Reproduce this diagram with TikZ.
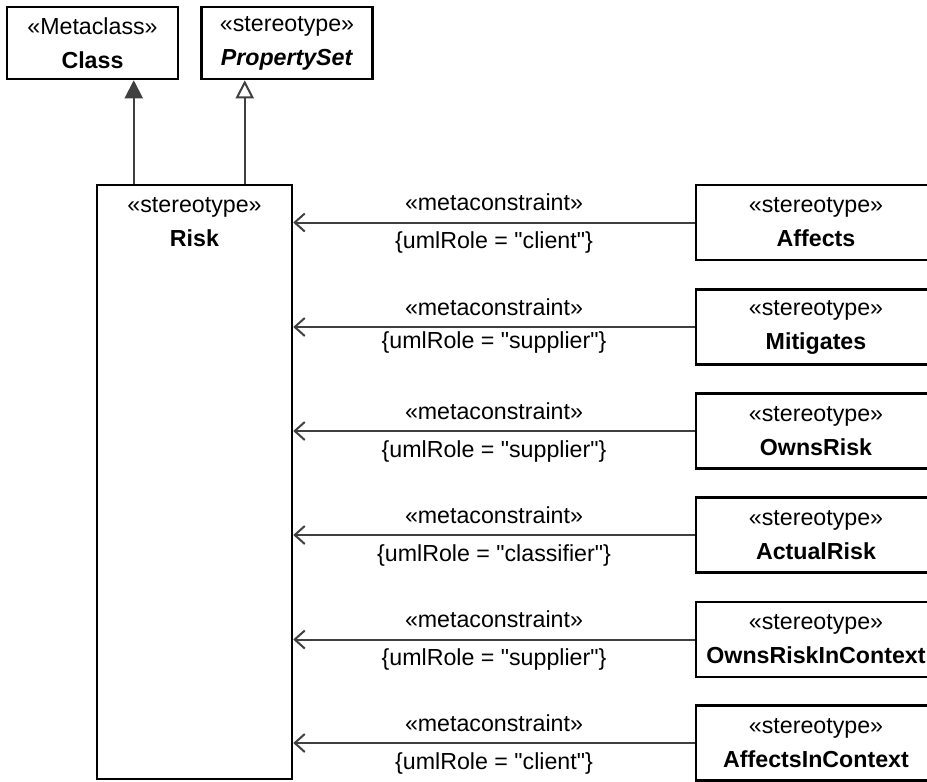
\documentclass[tikz,border=0pt]{standalone}
\usepackage{fontspec}
\setmainfont{Liberation Sans}[Ligatures=TeXOff]
\usetikzlibrary{arrows.meta}
\definecolor{linegray}{HTML}{404040}
\begin{document}
\begin{tikzpicture}[x=0.5pt, y=-0.5pt, font=\fontsize{11.6}{17}\selectfont,
  umlbox/.style={draw, line width=1.25pt, rectangle, align=center, inner sep=0pt},
  smallbox/.style={umlbox, minimum width=85.5pt, minimum height=36pt},
  stereobox/.style={umlbox, minimum width=120pt, minimum height=37.5pt},
  dep/.style={draw=linegray, line width=1pt, -{Straight Barb[length=5pt,width=9pt]}},
  ext/.style={draw=linegray, line width=1pt, -{Triangle[length=9pt,width=9pt,fill=linegray]}},
  gen/.style={draw=linegray, line width=1pt, -{Triangle[open,length=9pt,width=9pt]}},
  mclbl/.style={midway, yshift=10pt},
  rolelbl/.style={midway, yshift=-10pt}]
\useasboundingbox (0,0) rectangle (927,782);
\clip (0,0) rectangle (927,782);
% top classes
\node[smallbox] (class) at (92.5,43) {«Metaclass»\\\textbf{Class}};
\node[smallbox] (propset) at (287,43) {«stereotype»\\\textbf{\textit{PropertySet}}};
% Risk
\node[umlbox, minimum width=97.5pt, minimum height=297pt] (risk) at (194.5,482) {};
\node[align=center] (risklbl) at (194.5,222.5) {«stereotype»\\\textbf{Risk}};
% right stereotypes
\node[stereobox] (affects) at (816,222.5) {«stereotype»\\\textbf{Affects}};
\node[stereobox] (mitigates) at (816,327) {«stereotype»\\\textbf{Mitigates}};
\node[stereobox] (ownsrisk) at (816,431) {«stereotype»\\\textbf{OwnsRisk}};
\node[stereobox] (actualrisk) at (816,535) {«stereotype»\\\textbf{ActualRisk}};
\node[stereobox] (ownsctx) at (816,639.5) {«stereotype»\\\textbf{OwnsRiskInContext}};
\node[stereobox] (affectsctx) at (816,743) {«stereotype»\\\textbf{AffectsInContext}};
% generalizations
\draw[ext] ([xshift=19pt]risk.north west) -- ([xshift=19pt]risk.north west |- class.south);
\draw[gen] ([xshift=74.5pt]risk.north west) -- ([xshift=74.5pt]risk.north west |- propset.south);
% metaconstraints
\draw[dep] (affects.west) -- node[mclbl] {«metaconstraint»} node[rolelbl] {\{umlRole = "client"\}} (affects.west -| risk.east);
\draw[dep] (mitigates.west) -- node[mclbl] {«metaconstraint»} node[midway, yshift=-7.5pt] {\{umlRole = "supplier"\}} (mitigates.west -| risk.east);
\draw[dep] (ownsrisk.west) -- node[mclbl] {«metaconstraint»} node[rolelbl] {\{umlRole = "supplier"\}} (ownsrisk.west -| risk.east);
\draw[dep] (actualrisk.west) -- node[mclbl] {«metaconstraint»} node[rolelbl] {\{umlRole = "classifier"\}} (actualrisk.west -| risk.east);
\draw[dep] (ownsctx.west) -- node[mclbl] {«metaconstraint»} node[rolelbl] {\{umlRole = "supplier"\}} (ownsctx.west -| risk.east);
\draw[dep] (affectsctx.west) -- node[mclbl] {«metaconstraint»} node[rolelbl] {\{umlRole = "client"\}} (affectsctx.west -| risk.east);
\end{tikzpicture}
\end{document}
